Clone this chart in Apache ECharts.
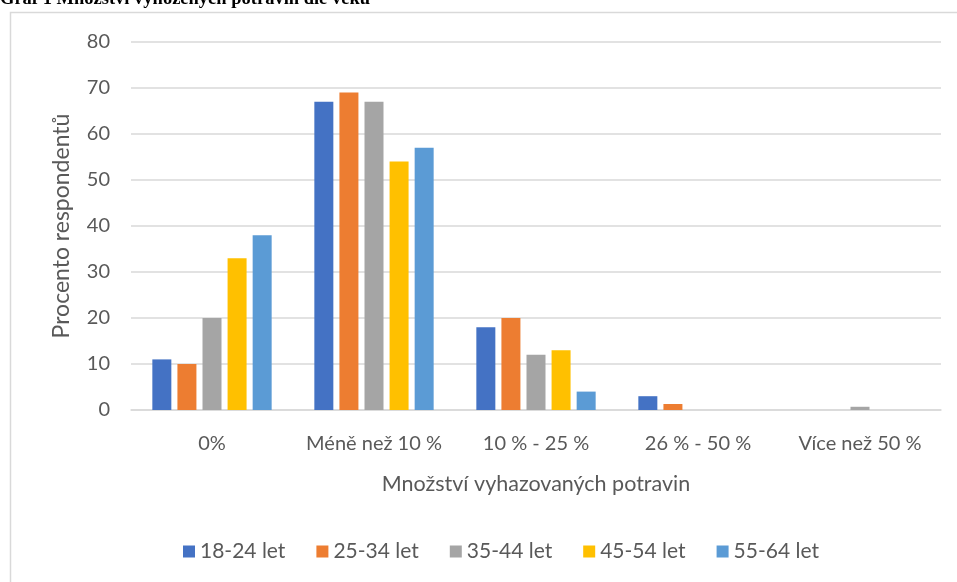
<!DOCTYPE html>
<html>
<head>
<meta charset="utf-8">
<script src="https://cdn.jsdelivr.net/npm/echarts@6/dist/echarts.min.js"></script>
<style>
  html, body { margin: 0; padding: 0; background: #fff; }
  #main { width: 957px; height: 582px; }
</style>
</head>
<body>
<div id="main"></div>
<script>
// data
var categories = ['0%', 'Méně než 10 %', '10 % - 25 %', '26 % - 50 %', 'Více než 50 %'];
var seriesNames = ['18-24 let', '25-34 let', '35-44 let', '45-54 let', '55-64 let'];
var age1824 = [11, 67, 18, 3, 0];
var age2534 = [10, 69, 20, 1.3, 0];
var age3544 = [20, 67, 12, 0, 0.7];
var age4554 = [33, 54, 13, 0, 0];
var age5564 = [38, 57, 4, 0, 0];
var colors = ['#4472C4', '#ED7D31', '#A5A5A5', '#FFC000', '#5B9BD5'];

var font = 'Lato';
var txt = '#595959';

var chart = echarts.init(document.getElementById('main'));

var seriesData = [age1824, age2534, age3544, age4554, age5564];
var series = seriesData.map(function (d, i) {
  return {
    name: seriesNames[i],
    type: 'bar',
    data: d,
    barWidth: 19,
    barGap: '32%',
    itemStyle: { color: colors[i] }
  };
});

var option = {
  animation: false,
  color: colors,
  textStyle: { fontFamily: font },
  graphic: [
    {
      type: 'rect',
      shape: { x: 10.5, y: 12.5, width: 960, height: 600 },
      style: { fill: null, stroke: '#d9d9d9', lineWidth: 1.5 },
      silent: true
    },
    {
      type: 'text',
      left: 0,
      top: -10,
      style: {
        text: 'Graf 1 Množství vyhozených potravin dle věku',
        font: 'bold 18.5px "Liberation Serif"',
        fill: '#000'
      }
    }
  ],
  grid: { left: 131, right: 16, top: 42, bottom: 172 },
  legend: {
    data: seriesNames,
    left: 178,
    top: 536,
    icon: 'rect',
    itemWidth: 12,
    itemHeight: 12,
    itemGap: 31,
    textStyle: { color: txt, fontSize: 21, fontFamily: font }
  },
  xAxis: {
    type: 'category',
    data: categories,
    name: 'Množství vyhazovaných potravin',
    nameLocation: 'middle',
    nameGap: 63,
    nameTextStyle: { color: txt, fontSize: 21.5, fontFamily: font },
    axisLine: { lineStyle: { color: '#d9d9d9', width: 1.5 } },
    axisTick: { show: false },
    axisLabel: { color: txt, fontSize: 20, margin: 24, interval: 0, fontFamily: font }
  },
  yAxis: {
    type: 'value',
    min: 0,
    max: 80,
    interval: 10,
    name: 'Procento respondentů',
    nameLocation: 'middle',
    nameGap: 58,
    nameTextStyle: { color: txt, fontSize: 23, fontFamily: font },
    axisLine: { show: false },
    axisTick: { show: false },
    axisLabel: { color: txt, fontSize: 20, margin: 21, fontFamily: font },
    splitLine: { lineStyle: { color: '#d9d9d9', width: 1.5 } }
  },
  series: series
};

chart.setOption(option);
</script>
</body>
</html>
